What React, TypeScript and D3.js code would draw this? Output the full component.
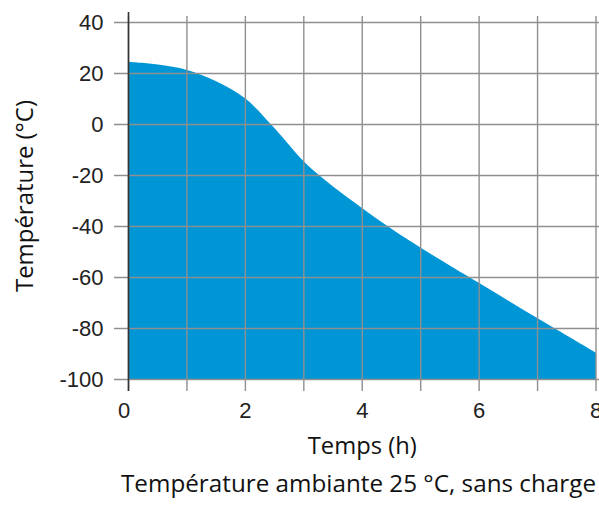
import React from "react";
import * as d3 from "d3";

const hours = [0, 0.5, 1, 1.5, 2, 2.5, 3, 3.5, 4, 4.5, 5, 6, 7, 8];
const temps = [24.6, 23.5, 21.4, 17.0, 10.2, -1.5, -14.5, -24.3, -32.8, -40.9, -48.3, -62.2, -76.0, -89.5];
const xTicks = [0, 2, 4, 6, 8];
const xGrid = [0, 1, 2, 3, 4, 5, 6, 7, 8];
const yTicks = [40, 20, 0, -20, -40, -60, -80, -100];
const yTitle = "Température (°C)";
const xTitle = "Temps (h)";
const note = "Température ambiante 25 °C, sans charge";

const W = 599;
const H = 506;

export default function App() {
  const x = d3.scaleLinear().domain([0, 8]).range([128.5, 596]);
  const y = d3.scaleLinear().domain([-100, 40]).range([379.5, 22.5]);
  const data = hours.map((h, i) => ({ h, t: temps[i] }));
  const area = d3
    .area<{ h: number; t: number }>()
    .x((d) => x(d.h))
    .y0(y(-100))
    .y1((d) => y(d.t))
    .curve(d3.curveCatmullRom.alpha(0.5));
  const grid = "#8f8f8f";
  return (
    <svg
      width={W}
      height={H}
      style={{ position: "absolute", left: 0, top: 0, background: "#fff" }}
    >
      <path d={area(data) ?? ""} fill="#0096d6" />
      {yTicks.map((v) => (
        <line key={"h" + v} x1={114} x2={W} y1={y(v)} y2={y(v)} stroke={grid} strokeWidth={1.4} />
      ))}
      {xGrid.map((v) => (
        <line key={"v" + v} x1={x(v)} x2={x(v)} y1={16} y2={391} stroke={grid} strokeWidth={1.4} />
      ))}
      <line x1={x(0)} x2={x(0)} y1={12} y2={391} stroke="#333" strokeWidth={1.6} />
      {yTicks.map((v) => (
        <text
          key={"yl" + v}
          x={103.5}
          y={y(v)}
          dy="0.36em"
          textAnchor="end"
          fontFamily="Liberation Sans, Arial, sans-serif"
          fontSize={22}
          fill="#222"
        >
          {v}
        </text>
      ))}
      {xTicks.map((v) => (
        <text
          key={"xl" + v}
          x={x(v) + (v === 0 ? -4.5 : 0)}
          y={418}
          textAnchor="middle"
          fontFamily="Liberation Sans, Arial, sans-serif"
          fontSize={22}
          fill="#222"
        >
          {v}
        </text>
      ))}
      <text
        x={(x(0) + x(8)) / 2}
        y={454}
        textAnchor="middle"
        fontFamily="Open Sans, sans-serif"
        fontSize={23}
        fill="#111"
        textLength={109}
        lengthAdjust="spacingAndGlyphs"
      >
        {xTitle}
      </text>
      <text
        transform="translate(33,196) rotate(-90)"
        textAnchor="middle"
        fontFamily="Open Sans, sans-serif"
        fontSize={23}
        fill="#111"
        textLength={192}
        lengthAdjust="spacingAndGlyphs"
      >
        {yTitle}
      </text>
      <text
        x={596}
        y={492}
        textAnchor="end"
        fontFamily="Open Sans, sans-serif"
        fontSize={24}
        fill="#111"
        textLength={475}
        lengthAdjust="spacingAndGlyphs"
      >
        {note}
      </text>
    </svg>
  );
}
